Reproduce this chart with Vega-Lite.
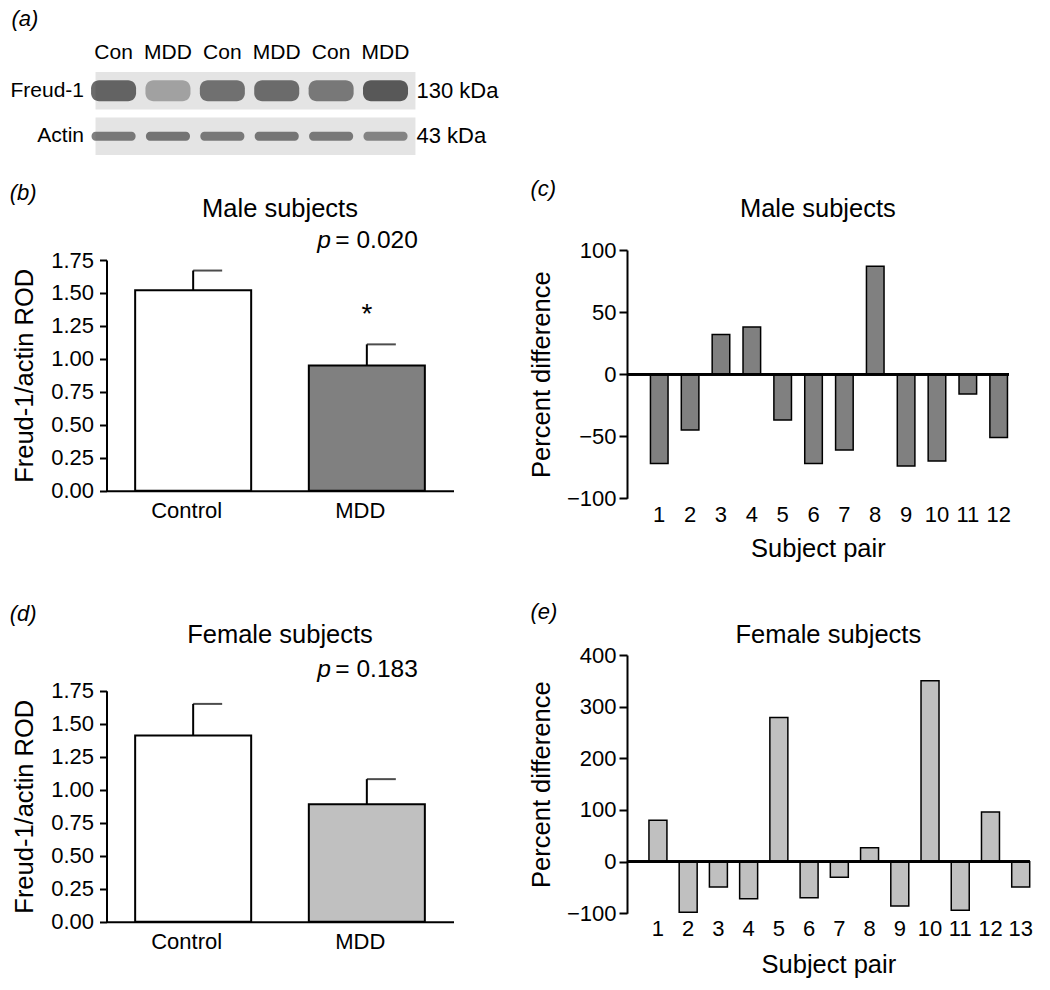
{
  "$schema": "https://vega.github.io/schema/vega-lite/v6.json",
  "background": "white",
  "padding": {"left": 9.5, "top": 7, "right": 10, "bottom": 10},
  "columns": 2,
  "bounds": "flush",
  "align": "each",
  "spacing": {"row": 95, "column": 173.5},
  "resolve": {"scale": {"fill": "independent", "color": "independent"}},
  "config": {
    "font": "Liberation Sans",
    "view": {"stroke": null},
    "axis": {"domainColor": "black", "domainWidth": 2, "tickColor": "black", "tickWidth": 2, "tickSize": 7, "labelColor": "black", "titleColor": "black", "labelFontSize": 22, "titleFontSize": 25.5, "titleFontWeight": "normal", "grid": false, "labelOverlap": false},
    "title": {"anchor": "start", "frame": "bounds", "fontSize": 22, "fontStyle": "italic", "fontWeight": "normal", "baseline": "bottom", "color": "black"},
    "text": {"color": "black"}
  },
  "datasets": {
    "blot": [
      {"lane": 1, "group": "Con", "protein": "Freud-1", "intensity": 0.86},
      {"lane": 2, "group": "MDD", "protein": "Freud-1", "intensity": 0.42},
      {"lane": 3, "group": "Con", "protein": "Freud-1", "intensity": 0.76},
      {"lane": 4, "group": "MDD", "protein": "Freud-1", "intensity": 0.8},
      {"lane": 5, "group": "Con", "protein": "Freud-1", "intensity": 0.7},
      {"lane": 6, "group": "MDD", "protein": "Freud-1", "intensity": 0.95},
      {"lane": 1, "group": "Con", "protein": "Actin", "intensity": 0.7},
      {"lane": 2, "group": "MDD", "protein": "Actin", "intensity": 0.74},
      {"lane": 3, "group": "Con", "protein": "Actin", "intensity": 0.7},
      {"lane": 4, "group": "MDD", "protein": "Actin", "intensity": 0.72},
      {"lane": 5, "group": "Con", "protein": "Actin", "intensity": 0.7},
      {"lane": 6, "group": "MDD", "protein": "Actin", "intensity": 0.62}
    ],
    "male": [
      {"group": "Control", "mean": 1.52, "upper": 1.67},
      {"group": "MDD", "mean": 0.95, "upper": 1.11, "sig": "*", "pval": "= 0.020"}
    ],
    "female": [
      {"group": "Control", "mean": 1.41, "upper": 1.65},
      {"group": "MDD", "mean": 0.89, "upper": 1.08, "pval": "= 0.183"}
    ],
    "malePairs": [
      {"pair": 1, "diff": -72}, {"pair": 2, "diff": -45}, {"pair": 3, "diff": 32}, {"pair": 4, "diff": 38},
      {"pair": 5, "diff": -37}, {"pair": 6, "diff": -72}, {"pair": 7, "diff": -61}, {"pair": 8, "diff": 87},
      {"pair": 9, "diff": -74}, {"pair": 10, "diff": -70}, {"pair": 11, "diff": -16}, {"pair": 12, "diff": -51}
    ],
    "femalePairs": [
      {"pair": 1, "diff": 80}, {"pair": 2, "diff": -98}, {"pair": 3, "diff": -49}, {"pair": 4, "diff": -72},
      {"pair": 5, "diff": 279}, {"pair": 6, "diff": -70}, {"pair": 7, "diff": -30}, {"pair": 8, "diff": 27},
      {"pair": 9, "diff": -86}, {"pair": 10, "diff": 350}, {"pair": 11, "diff": -94}, {"pair": 12, "diff": 96},
      {"pair": 13, "diff": -49}
    ]
  },
  "concat": [
    {
      "width": 347,
      "height": 83,
      "title": {"text": "(a)", "offset": 10.8, "dx": 1.5},
      "layer": [
        {
          "data": {"values": [{"protein": "Freud-1"}, {"protein": "Actin"}]},
          "mark": {"type": "rect", "color": "#e4e4e4"},
          "encoding": {
            "y": {"field": "protein", "type": "nominal", "scale": {"type": "band", "domain": ["Freud-1", "Actin"], "paddingInner": 0.18, "paddingOuter": 0}, "axis": {"title": null, "ticks": false, "tickSize": 0, "domain": false, "labelPadding": 23, "labelFontSize": 21}},
            "x": {"datum": 0.668, "type": "quantitative", "scale": {"domain": [0.87, 7.25], "nice": false, "zero": false}, "axis": null},
            "x2": {"datum": 6.55}
          }
        },
        {
          "data": {"name": "blot"},
          "transform": [{"filter": "datum.protein == 'Freud-1'"}],
          "mark": {"type": "tick", "orient": "horizontal", "size": 45, "thickness": 21, "cornerRadius": 8},
          "encoding": {
            "x": {"field": "lane", "type": "quantitative", "axis": null},
            "y": {"field": "protein", "type": "nominal", "scale": {"type": "band"}},
            "color": {"field": "intensity", "type": "quantitative", "scale": {"domain": [0, 1], "range": ["#e4e4e4", "#141414"]}, "legend": null}
          }
        },
        {
          "data": {"name": "blot"},
          "transform": [{"filter": "datum.protein == 'Actin'"}],
          "mark": {"type": "tick", "orient": "horizontal", "size": 44, "thickness": 9, "cornerRadius": 4},
          "encoding": {
            "x": {"field": "lane", "type": "quantitative", "axis": null},
            "y": {"field": "protein", "type": "nominal", "scale": {"type": "band"}},
            "color": {"field": "intensity", "type": "quantitative", "legend": null}
          }
        },
        {
          "data": {"name": "blot"},
          "transform": [{"filter": "datum.protein == 'Freud-1'"}],
          "mark": {"type": "text", "fontSize": 21, "baseline": "middle", "dy": -38},
          "encoding": {
            "x": {"field": "lane", "type": "quantitative", "axis": null},
            "y": {"field": "protein", "type": "nominal", "scale": {"type": "band"}},
            "text": {"field": "group"}
          }
        },
        {
          "data": {"values": [{"protein": "Freud-1", "mw": "130 kDa"}, {"protein": "Actin", "mw": "43 kDa"}]},
          "mark": {"type": "text", "fontSize": 22, "align": "left", "baseline": "middle"},
          "encoding": {
            "x": {"datum": 6.57, "type": "quantitative"},
            "y": {"field": "protein", "type": "nominal", "scale": {"type": "band"}},
            "text": {"field": "mw"}
          }
        }
      ]
    },
    {
      "width": 10,
      "height": 10,
      "data": {"values": []},
      "mark": "text",
      "encoding": {}
    },
    {
      "width": 347,
      "height": 310,
      "title": {"text": "(b)", "offset": -8.3, "dx": -3},
      "data": {"name": "male"},
      "layer": [
        {
          "mark": {"type": "bar", "stroke": "black", "strokeWidth": 2},
          "encoding": {
            "x": {"field": "group", "type": "nominal", "sort": null, "scale": {"paddingInner": 0.332, "paddingOuter": 0.165}, "axis": {"title": null, "ticks": false, "tickSize": 0, "labelAngle": 0, "labelFontSize": 22, "labelPadding": 9.5, "offset": -69.3, "labelOffset": -6.5}},
            "y": {"field": "mean", "type": "quantitative", "scale": {"domain": [0, 1.75], "range": [240.7, 10], "nice": false}, "axis": {"title": "Freud-1/actin ROD", "values": [0, 0.25, 0.5, 0.75, 1, 1.25, 1.5, 1.75], "tickCount": 10, "format": ".2f", "labelPadding": 6, "titlePadding": 13}},
            "fill": {"field": "group", "type": "nominal", "scale": {"domain": ["Control", "MDD"], "range": ["#ffffff", "#808080"]}, "legend": null}
          }
        },
        {
          "mark": {"type": "rule", "strokeWidth": 2, "color": "black"},
          "encoding": {
            "x": {"field": "group", "type": "nominal", "sort": null},
            "y": {"field": "mean", "type": "quantitative"},
            "y2": {"field": "upper"}
          }
        },
        {
          "mark": {"type": "tick", "orient": "horizontal", "size": 29, "thickness": 2, "xOffset": 14.5, "color": "black"},
          "encoding": {
            "x": {"field": "group", "type": "nominal", "sort": null},
            "y": {"field": "upper", "type": "quantitative"}
          }
        },
        {
          "transform": [{"filter": "datum.sig"}],
          "mark": {"type": "text", "fontSize": 28, "baseline": "alphabetic"},
          "encoding": {
            "x": {"field": "group", "type": "nominal", "sort": null},
            "y": {"datum": 1.27},
            "text": {"field": "sig"}
          }
        },
        {
          "transform": [{"filter": "datum.pval"}],
          "mark": {"type": "text", "text": "p", "fontStyle": "italic", "align": "right", "dx": -36, "fontSize": 24.5, "baseline": "alphabetic"},
          "encoding": {
            "x": {"field": "group", "type": "nominal", "sort": null},
            "y": {"datum": 1.839}
          }
        },
        {
          "transform": [{"filter": "datum.pval"}],
          "mark": {"type": "text", "align": "left", "dx": -31.5, "fontSize": 24.5, "baseline": "alphabetic"},
          "encoding": {
            "x": {"field": "group", "type": "nominal", "sort": null},
            "y": {"datum": 1.839},
            "text": {"field": "pval"}
          }
        },
        {
          "data": {"values": [{"label": "Male subjects"}]},
          "mark": {"type": "text", "fontSize": 25.5, "baseline": "alphabetic"},
          "encoding": {
            "y": {"datum": 2.079},
            "text": {"field": "label"}
          }
        }
      ]
    },
    {
      "width": 381.7,
      "height": 310,
      "title": {"text": "(c)", "offset": -4, "dx": 1},
      "data": {"name": "malePairs"},
      "layer": [
        {
          "mark": {"type": "bar", "fill": "#808080", "stroke": "black", "strokeWidth": 1.5},
          "encoding": {
            "x": {"field": "pair", "type": "ordinal", "scale": {"paddingInner": 0.43, "paddingOuter": 0.4, "align": 0.95}, "axis": {"title": "Subject pair", "ticks": false, "tickSize": 0, "domain": false, "labelAngle": 0, "labelPadding": 6.5, "offset": -61.7, "titlePadding": 11}},
            "y": {"field": "diff", "type": "quantitative", "scale": {"domain": [-100, 100], "range": [248.3, 0], "nice": false}, "axis": {"title": "Percent difference", "values": [-100, -50, 0, 50, 100], "tickCount": 10, "labelPadding": 3, "tickSize": 8, "titlePadding": 12}}
          }
        },
        {
          "mark": {"type": "rule", "strokeWidth": 2, "color": "black"},
          "encoding": {"y": {"datum": 0}}
        },
        {
          "data": {"values": [{"label": "Male subjects"}]},
          "mark": {"type": "text", "fontSize": 25.5, "baseline": "alphabetic"},
          "encoding": {
            "y": {"datum": 126.8},
            "text": {"field": "label"}
          }
        }
      ]
    },
    {
      "width": 347,
      "height": 266.7,
      "title": {"text": "(d)", "offset": -2.4, "dx": -3},
      "data": {"name": "female"},
      "layer": [
        {
          "mark": {"type": "bar", "stroke": "black", "strokeWidth": 2},
          "encoding": {
            "x": {"field": "group", "type": "nominal", "sort": null, "scale": {"paddingInner": 0.332, "paddingOuter": 0.165}, "axis": {"title": null, "ticks": false, "tickSize": 0, "labelAngle": 0, "labelFontSize": 22, "labelPadding": 9.5, "labelOffset": -6.5}},
            "y": {"field": "mean", "type": "quantitative", "scale": {"domain": [0, 1.75], "range": [266.7, 35.7], "nice": false}, "axis": {"title": "Freud-1/actin ROD", "values": [0, 0.25, 0.5, 0.75, 1, 1.25, 1.5, 1.75], "tickCount": 10, "format": ".2f", "labelPadding": 6, "titlePadding": 13}},
            "fill": {"field": "group", "type": "nominal", "scale": {"domain": ["Control", "MDD"], "range": ["#ffffff", "#c0c0c0"]}, "legend": null}
          }
        },
        {
          "mark": {"type": "rule", "strokeWidth": 2, "color": "black"},
          "encoding": {
            "x": {"field": "group", "type": "nominal", "sort": null},
            "y": {"field": "mean", "type": "quantitative"},
            "y2": {"field": "upper"}
          }
        },
        {
          "mark": {"type": "tick", "orient": "horizontal", "size": 29, "thickness": 2, "xOffset": 14.5, "color": "black"},
          "encoding": {
            "x": {"field": "group", "type": "nominal", "sort": null},
            "y": {"field": "upper", "type": "quantitative"}
          }
        },
        {
          "transform": [{"filter": "datum.pval"}],
          "mark": {"type": "text", "text": "p", "fontStyle": "italic", "align": "right", "dx": -36, "fontSize": 24.5, "baseline": "alphabetic"},
          "encoding": {
            "x": {"field": "group", "type": "nominal", "sort": null},
            "y": {"datum": 1.852}
          }
        },
        {
          "transform": [{"filter": "datum.pval"}],
          "mark": {"type": "text", "align": "left", "dx": -31.5, "fontSize": 24.5, "baseline": "alphabetic"},
          "encoding": {
            "x": {"field": "group", "type": "nominal", "sort": null},
            "y": {"datum": 1.852},
            "text": {"field": "pval"}
          }
        },
        {
          "data": {"values": [{"label": "Female subjects"}]},
          "mark": {"type": "text", "fontSize": 25.5, "baseline": "alphabetic"},
          "encoding": {
            "y": {"datum": 2.109},
            "text": {"field": "label"}
          }
        }
      ]
    },
    {
      "width": 402.7,
      "height": 266.7,
      "title": {"text": "(e)", "offset": -1.3, "dx": 1},
      "data": {"name": "femalePairs"},
      "layer": [
        {
          "mark": {"type": "bar", "fill": "#c0c0c0", "stroke": "black", "strokeWidth": 1.5},
          "encoding": {
            "x": {"field": "pair", "type": "ordinal", "scale": {"paddingInner": 0.405, "paddingOuter": 0.363, "align": 1}, "axis": {"title": "Subject pair", "ticks": false, "tickSize": 0, "domain": false, "labelAngle": 0, "labelPadding": 5, "offset": -8.4, "titlePadding": 13}},
            "y": {"field": "diff", "type": "quantitative", "scale": {"domain": [-100, 400], "range": [258.3, 0], "nice": false}, "axis": {"title": "Percent difference", "values": [-100, 0, 100, 200, 300, 400], "tickCount": 10, "labelPadding": 3, "tickSize": 8, "titlePadding": 12}}
          }
        },
        {
          "mark": {"type": "rule", "strokeWidth": 2, "color": "black"},
          "encoding": {"y": {"datum": 0}}
        },
        {
          "data": {"values": [{"label": "Female subjects"}]},
          "mark": {"type": "text", "fontSize": 25.5, "baseline": "alphabetic"},
          "encoding": {
            "y": {"datum": 423.9},
            "text": {"field": "label"}
          }
        }
      ]
    }
  ]
}
